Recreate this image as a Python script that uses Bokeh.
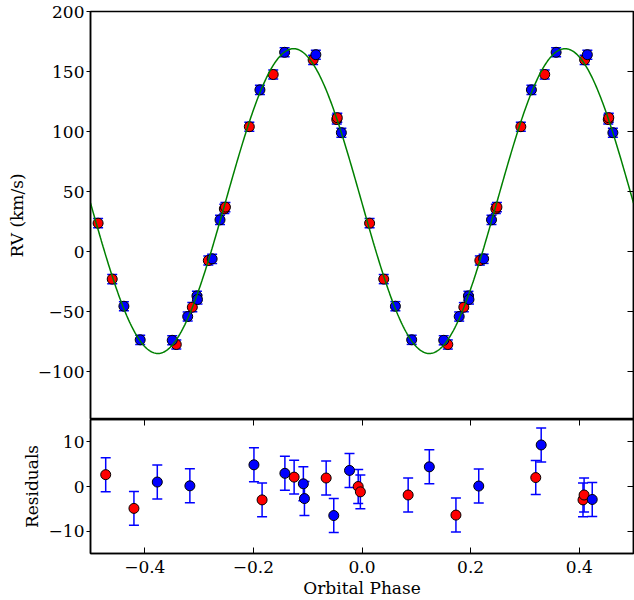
import numpy as np
from bokeh.plotting import figure
from bokeh.layouts import column
from bokeh.models import (Range1d, LinearAxis, FixedTicker, ColumnDataSource,
                          Whisker, TeeHead, CustomJSTickFormatter, CustomLabelingPolicy)
from bokeh.embed import file_html
from bokeh.resources import INLINE

# RV curve panel: folded phase (0 - 0.5), drawn twice (phase and phase - 0.5)
rv_phase_red = [0.014, 0.040, 0.158, 0.1875, 0.217, 0.2465, 0.2485, 0.2925, 0.3365, 0.410, 0.4535, 0.4545]
rv_red = [23.6, -23.0, -77.5, -46.4, -7.5, 35.5, 37.0, 104.0, 147.5, 159.7, 110.0, 111.5]
rv_phase_blue = [0.0615, 0.0915, 0.1505, 0.179, 0.196, 0.197, 0.224, 0.2385, 0.312, 0.3575, 0.415, 0.462]
rv_blue = [-45.6, -73.6, -74.0, -54.2, -37.0, -40.0, -6.1, 26.4, 134.7, 166.0, 164.0, 99.0]
rv_err = 3.8

# residual panel
res_phase_red = [-0.472, -0.420, -0.184, -0.125, -0.066, -0.007, -0.003, 0.085, 0.173, 0.320, 0.407, 0.409]
res_red = [2.65, -4.9, -3.0, 2.1, 1.9, 0.0, -1.2, -1.9, -6.4, 2.0, -3.0, -1.9]
res_phase_blue = [-0.377, -0.317, -0.199, -0.142, -0.108, -0.106, -0.052, -0.023, 0.124, 0.215, 0.330, 0.424]
res_blue = [1.0, 0.15, 4.85, 2.95, 0.6, -2.7, -6.5, 3.6, 4.4, 0.1, 9.3, -2.9]
res_err = 3.8

# orbit model (fit)
gamma = 42.0
K = 127.0
t0 = 0.249
model_period = 0.5

x_ticks = [-0.4, -0.2, 0.0, 0.2, 0.4]
rv_ticks = [-100, -50, 0, 50, 100, 150, 200]
res_ticks = [-10, 0, 10]

FONT = "DejaVu Serif"
FS = "17px"

x_range = Range1d(-0.5, 0.5)


def minus_fmt(digits):
    return CustomJSTickFormatter(args=dict(d=digits), code="""
        const s = Math.abs(tick).toFixed(d);
        return (tick < -1e-9 ? '\u2212' : '') + s;
    """)


def blank_axis(ticks, where, p, loc):
    # mirrored inward ticks on the frame edge, no labels, takes no border space
    a = LinearAxis(ticker=FixedTicker(ticks=ticks), major_tick_in=6, major_tick_out=0,
                   minor_tick_line_color=None, axis_line_width=1.5, fixed_location=loc,
                   major_label_policy=CustomLabelingPolicy(code="""
                       for (const i of [...indices]) indices.unset(i);
                       return indices;
                   """))
    p.add_layout(a, where)


def style(p, yticks, label_standoff):
    p.grid.visible = False
    p.outline_line_color = "black"
    p.outline_line_width = 1.5
    p.background_fill_color = "white"
    p.border_fill_color = "white"
    ax = p.yaxis[0]
    ax.ticker = FixedTicker(ticks=yticks)
    ax.formatter = minus_fmt(0)
    ax.major_tick_in = 0
    ax.major_tick_out = 4
    ax.minor_tick_line_color = None
    ax.axis_line_width = 1.5
    ax.major_label_standoff = 2
    ax.major_label_text_font = FONT
    ax.major_label_text_font_size = FS
    ax.major_label_text_color = "black"
    ax.axis_label_text_font = FONT
    ax.axis_label_text_font_size = FS
    ax.axis_label_text_font_style = "normal"
    ax.axis_label_text_color = "black"
    ax.axis_label_standoff = label_standoff
    blank_axis(yticks, "right", p, x_range.end)


def points(p, xs, ys, err, color):
    src = ColumnDataSource(data=dict(x=xs, y=ys,
                                     lo=[v - err for v in ys], hi=[v + err for v in ys]))
    w = Whisker(base="x", upper="hi", lower="lo", source=src, line_color="blue", line_width=1.5,
                upper_head=TeeHead(size=10, line_color="blue", line_width=1.5),
                lower_head=TeeHead(size=10, line_color="blue", line_width=1.5))
    p.add_layout(w)
    p.scatter("x", "y", source=src, size=10, fill_color=color, line_color="black", line_width=1)


# ---- top panel
top = figure(width=634, height=419, x_range=x_range, y_range=Range1d(-140, 200),
             output_backend="svg", toolbar_location=None, tools="",
             min_border_left=90, min_border_right=1, min_border_top=11, min_border_bottom=0)
style(top, rv_ticks, 8)
top.xaxis.visible = False
top.yaxis[0].axis_label = "RV (km/s)"

for ph, rv, col in [(rv_phase_red, rv_red, "red"), (rv_phase_blue, rv_blue, "blue")]:
    xs = list(ph) + [v - 0.5 for v in ph]
    ys = list(rv) + list(rv)
    points(top, xs, ys, rv_err, col)

t = np.linspace(-0.5, 0.5, 600)
top.line(t, gamma + K * np.sin(2 * np.pi * (t - t0) / model_period), line_color="green", line_width=1.5)

# ---- residual panel
res_range = Range1d(-15, 15)
bot = figure(width=634, height=181, x_range=x_range, y_range=res_range,
             output_backend="svg", toolbar_location=None, tools="",
             min_border_left=90, min_border_right=1, min_border_top=0, min_border_bottom=45)
style(bot, res_ticks, 4)
bot.yaxis[0].axis_label = "Residuals"
xa = bot.xaxis[0]
xa.ticker = FixedTicker(ticks=x_ticks)
xa.formatter = minus_fmt(1)
xa.major_tick_in = 6
xa.major_tick_out = 0
xa.minor_tick_line_color = None
xa.axis_line_width = 1.5
xa.major_label_standoff = 7
xa.major_label_text_font = FONT
xa.major_label_text_font_size = FS
xa.major_label_text_color = "black"
xa.axis_label = "Orbital Phase"
xa.axis_label_text_font = FONT
xa.axis_label_text_font_size = FS
xa.axis_label_text_font_style = "normal"
xa.axis_label_text_color = "black"
xa.axis_label_standoff = 2
blank_axis(x_ticks, "above", bot, res_range.end)

points(bot, res_phase_red, res_red, res_err, "red")
points(bot, res_phase_blue, res_blue, res_err, "blue")

layout = column(top, bot, spacing=0)
open("out.html", "w").write(file_html(layout, INLINE))
